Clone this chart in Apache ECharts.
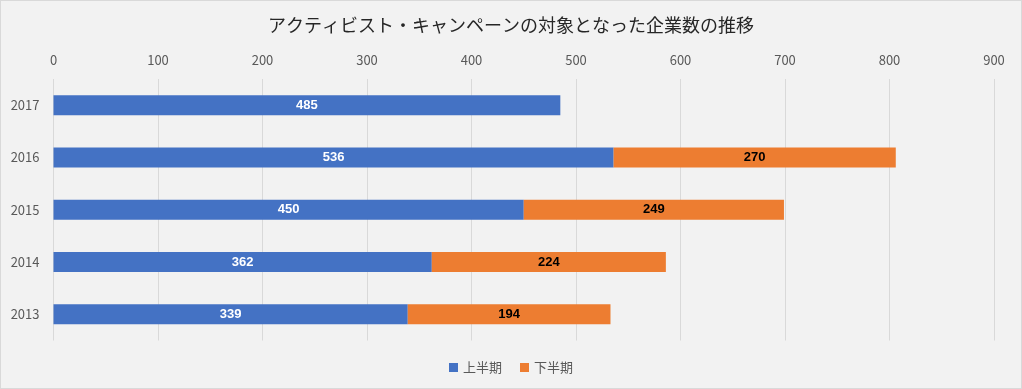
<!DOCTYPE html>
<html><head><meta charset="utf-8">
<script src="https://cdn.jsdelivr.net/npm/echarts@6/dist/echarts.min.js"></script>
<style>html,body{margin:0;padding:0;background:#f2f2f2;}#c{width:1020px;height:387px;border:1px solid #d9d9d9;}</style>
</head><body><div id="c"></div>
<script>
const categories = ['2013','2014','2015','2016','2017'];
const firstHalf = [339,362,450,536,485];
const secondHalf = [194,224,249,270,null];
const seriesNames = ['上半期','下半期'];
const chart = echarts.init(document.getElementById('c'));
const font = '"Noto Sans CJK JP","Noto Sans",sans-serif';
chart.setOption({
  backgroundColor:'#f2f2f2',
  animation:false,
  title:{text:'アクティビスト・キャンペーンの対象となった企業数の推移',left:'center',top:10,
    textStyle:{fontSize:18,fontWeight:'normal',color:'#262626',fontFamily:font}},
  legend:{bottom:9,left:'center',itemWidth:9,itemHeight:9,icon:'rect',itemGap:18,
    textStyle:{fontSize:13,color:'#595959',fontFamily:font},data:seriesNames},
  grid:{left:52.5,right:27,top:78,bottom:47.5},
  xAxis:{type:'value',position:'top',min:0,max:900,interval:100,
    axisLine:{show:false},axisTick:{show:false},
    axisLabel:{color:'#595959',fontSize:13,fontFamily:font,margin:12},
    splitLine:{lineStyle:{color:'#d9d9d9'}}},
  yAxis:{type:'category',data:categories,axisLine:{show:false},axisTick:{show:false},
    axisLabel:{color:'#595959',fontSize:13,fontFamily:font,margin:14}},
  series:[
    {name:seriesNames[0],type:'bar',stack:'a',data:firstHalf,barWidth:20,itemStyle:{color:'#4472c4'},
      label:{show:true,position:'inside',color:'#fff',fontWeight:'bold',fontSize:13,fontFamily:'Liberation Sans, Arial, sans-serif'}},
    {name:seriesNames[1],type:'bar',stack:'a',data:secondHalf,barWidth:20,itemStyle:{color:'#ed7d31'},
      label:{show:true,position:'inside',color:'#000',fontWeight:'bold',fontSize:13,fontFamily:'Liberation Sans, Arial, sans-serif'}}
  ]
});
</script></body></html>
